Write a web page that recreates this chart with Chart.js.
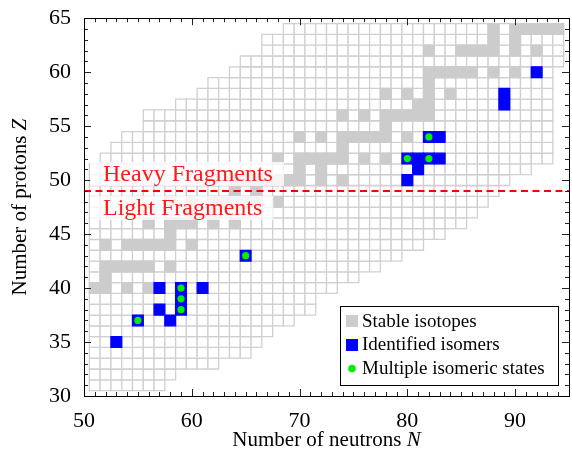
<!DOCTYPE html>
<html lang="en">
<head>
<meta charset="UTF-8" />
<title>Isomers in fission fragments</title>
<style>
  html, body { margin: 0; padding: 0; background: #fff; }
  #chart { display: block; }
</style>
<script src="https://cdn.jsdelivr.net/npm/chart.js"></script>
</head>
<body>
<canvas id="chart" width="572" height="460"></canvas>
<script>
// rows of the chart (proton number Z) and the neutron range drawn in each
var rowZ    = [31, 32, 33, 34, 35, 36, 37, 38, 39, 40, 41, 42, 43, 44, 45, 46, 47,
               48, 49, 50, 51, 52, 53, 54, 55, 56, 57, 58, 59, 60, 61, 62, 63, 64];
var rowNMin = [51, 51, 51, 51, 51, 51, 51, 51, 51, 51, 51, 51, 51, 51, 51, 51, 51,
               51, 51, 51, 51, 52, 53, 54, 56, 56, 59, 61, 62, 64, 65, 67, 67, 69];
var rowNMax = [57, 58, 62, 65, 66, 67, 69, 71, 71, 73, 75, 77, 79, 81, 83, 85, 86,
               87, 88, 89, 91, 93, 93, 93, 93, 93, 93, 93, 93, 93, 94, 94, 94, 94];

// stable isotopes [N, Z]
var stable = [
  [51, 40], [52, 40], [54, 40], [56, 40],
  [52, 41],
  [52, 42], [53, 42], [54, 42], [55, 42], [56, 42], [58, 42],
  [52, 44], [54, 44], [55, 44], [56, 44], [57, 44], [58, 44], [60, 44],
  [58, 45],
  [56, 46], [58, 46], [59, 46], [60, 46], [62, 46], [64, 46],
  [60, 47], [62, 47],
  [58, 48], [60, 48], [62, 48], [63, 48], [64, 48], [65, 48], [66, 48], [68, 48],
  [64, 49], [66, 49],
  [62, 50], [64, 50], [65, 50], [66, 50], [67, 50], [68, 50], [69, 50], [70, 50], [72, 50], [74, 50],
  [70, 51], [72, 51],
  [68, 52], [70, 52], [71, 52], [72, 52], [73, 52], [74, 52], [76, 52], [78, 52],
  [74, 53],
  [70, 54], [72, 54], [74, 54], [75, 54], [76, 54], [77, 54], [78, 54], [80, 54], [82, 54],
  [78, 55],
  [74, 56], [76, 56], [78, 56], [79, 56], [80, 56], [81, 56], [82, 56],
  [81, 57], [82, 57],
  [78, 58], [80, 58], [82, 58], [84, 58],
  [82, 59],
  [82, 60], [83, 60], [84, 60], [85, 60], [86, 60], [88, 60], [90, 60],
  [82, 62], [85, 62], [86, 62], [87, 62], [88, 62], [90, 62], [92, 62],
  [88, 63], [90, 63],
  [88, 64], [90, 64], [91, 64], [92, 64], [93, 64], [94, 64]
];

// identified isomers [N, Z]
var isomers = [
  [53, 35], [55, 37], [58, 37], [57, 38], [59, 38], [59, 39], [57, 40], [59, 40], [61, 40],
  [65, 43], [80, 50], [81, 51], [80, 52], [81, 52], [82, 52], [83, 52], [82, 54], [83, 54],
  [89, 57], [89, 58], [92, 60]
];

// isomers with more than one isomeric state [N, Z]
var multiple = [
  [55, 37], [59, 38], [59, 39], [59, 40], [65, 43], [80, 52], [82, 52], [82, 54]
];

var splitZ = 49;           // light / heavy fragment boundary
var xMin = 50, xMax = 95;
var yMin = 30, yMax = 65;
var xTicks = [50, 60, 70, 80, 90];
var yTicks = [30, 35, 40, 45, 50, 55, 60, 65];

var SERIF = "'Liberation Serif', 'DejaVu Serif', serif";

function toPoints(list) {
  return list.map(function (p) { return { x: p[0], y: p[1] }; });
}

var cells = [];
rowZ.forEach(function (z, i) {
  for (var n = rowNMin[i]; n <= rowNMax[i]; n++) cells.push({ x: n, y: z });
});

// side of one cell in pixels -> radius of a 'rect' point
function cellRadius(ctx) {
  var s = ctx.chart.scales.x;
  var w = s ? Math.abs(s.getPixelForValue(1) - s.getPixelForValue(0)) : 0;
  if (!w || !isFinite(w)) w = 10.8;
  return w / Math.SQRT2;
}

var frameAndTicks = {
  id: 'frameAndTicks',
  afterDatasetsDraw: function (chart) {
    var ctx = chart.ctx, a = chart.chartArea;
    var x = chart.scales.x, y = chart.scales.y;
    ctx.save();
    ctx.strokeStyle = '#222';
    ctx.lineWidth = 1;
    ctx.beginPath();
    var v, px, len;
    for (v = xMin; v <= xMax; v++) {
      px = Math.round(x.getPixelForValue(v)) + 0.5;
      len = xTicks.indexOf(v) >= 0 ? 7 : 4;
      ctx.moveTo(px, a.bottom); ctx.lineTo(px, a.bottom - len);
      ctx.moveTo(px, a.top); ctx.lineTo(px, a.top + len);
    }
    for (v = yMin; v <= yMax; v++) {
      px = Math.round(y.getPixelForValue(v)) + 0.5;
      len = yTicks.indexOf(v) >= 0 ? 7 : 4;
      ctx.moveTo(a.left, px); ctx.lineTo(a.left + len, px);
      ctx.moveTo(a.right, px); ctx.lineTo(a.right - len, px);
    }
    ctx.stroke();
    ctx.strokeStyle = '#000';
    ctx.strokeRect(Math.round(a.left) + 0.5, Math.round(a.top) + 0.5,
                   Math.round(a.right - a.left), Math.round(a.bottom - a.top));
    ctx.restore();
  }
};

var regionLabels = {
  id: 'regionLabels',
  afterDatasetsDraw: function (chart) {
    var ctx = chart.ctx, a = chart.chartArea, y = chart.scales.y;
    var yLine = y.getPixelForValue(splitZ);
    ctx.save();
    ctx.font = '24px ' + SERIF;
    ctx.textBaseline = 'middle';
    [['Heavy Fragments', yLine - 17], ['Light Fragments', yLine + 17]].forEach(function (t) {
      var w = ctx.measureText(t[0]).width;
      ctx.fillStyle = 'rgba(255,255,255,0.78)';
      ctx.fillRect(a.left + 6, t[1] - 12, w + 24, 24);
      ctx.fillStyle = '#ff1a1a';
      ctx.fillText(t[0], a.left + 19, t[1] + 1);
    });
    ctx.restore();
  }
};

var boxLegend = {
  id: 'boxLegend',
  afterDraw: function (chart) {
    var ctx = chart.ctx;
    var ds = chart.data.datasets;
    var left = 340, top = 306, w = 218, h = 79;
    ctx.save();
    ctx.fillStyle = '#fff';
    ctx.fillRect(left, top, w, h);
    ctx.strokeStyle = '#000';
    ctx.lineWidth = 1;
    ctx.strokeRect(left + 0.5, top + 0.5, w, h);
    ctx.font = '19px ' + SERIF;
    ctx.textBaseline = 'alphabetic';
    ctx.fillStyle = ds[1].pointBackgroundColor;
    ctx.fillRect(346, 315, 12, 12);
    ctx.fillStyle = ds[2].pointBackgroundColor;
    ctx.fillRect(346, 339, 12, 12);
    ctx.fillStyle = ds[3].pointBackgroundColor;
    ctx.beginPath();
    ctx.arc(352, 368.5, 3.8, 0, Math.PI * 2);
    ctx.fill();
    ctx.fillStyle = '#000';
    ctx.fillText(ds[1].label, 362, 327);
    ctx.fillText(ds[2].label, 362, 350);
    ctx.fillText(ds[3].label, 362, 374);
    ctx.restore();
  }
};

var axisTitles = {
  id: 'axisTitles',
  afterDraw: function (chart) {
    var ctx = chart.ctx, a = chart.chartArea;
    function mixed(text, sym, cx, cy) {
      ctx.font = '21px ' + SERIF;
      var w1 = ctx.measureText(text).width;
      ctx.font = 'italic 21px ' + SERIF;
      var w2 = ctx.measureText(sym).width;
      var x0 = cx - (w1 + w2) / 2;
      ctx.font = '21px ' + SERIF;
      ctx.fillText(text, x0, cy);
      ctx.font = 'italic 21px ' + SERIF;
      ctx.fillText(sym, x0 + w1, cy);
    }
    ctx.save();
    ctx.fillStyle = '#000';
    ctx.textBaseline = 'middle';
    ctx.textAlign = 'left';
    mixed('Number of neutrons ', 'N', (a.left + a.right) / 2, 440);
    ctx.translate(20, (a.top + a.bottom) / 2);
    ctx.rotate(-Math.PI / 2);
    mixed('Number of protons ', 'Z', 0, 0);
    ctx.restore();
  }
};

var chart = new Chart(document.getElementById('chart').getContext('2d'), {
  type: 'scatter',
  data: {
    datasets: [
      {
        label: 'cells',
        data: cells,
        pointStyle: 'rect',
        pointRadius: cellRadius,
        pointBackgroundColor: '#ffffff',
        pointBorderColor: '#d0d0d0',
        pointBorderWidth: 1.3,
        clip: 0,
        order: 5
      },
      {
        label: 'Stable isotopes',
        data: toPoints(stable),
        pointStyle: 'rect',
        pointRadius: cellRadius,
        pointBackgroundColor: '#cccccc',
        pointBorderColor: '#cccccc',
        pointBorderWidth: 1.3,
        clip: 0,
        order: 4
      },
      {
        label: 'Identified isomers',
        data: toPoints(isomers),
        pointStyle: 'rect',
        pointRadius: cellRadius,
        pointBackgroundColor: '#0000ff',
        pointBorderColor: '#0000ff',
        pointBorderWidth: 1.3,
        clip: 0,
        order: 3
      },
      {
        label: 'Multiple isomeric states',
        data: toPoints(multiple),
        pointStyle: 'circle',
        pointRadius: 3.6,
        pointBackgroundColor: '#00f000',
        pointBorderWidth: 0,
        clip: 0,
        order: 2
      },
      {
        label: 'boundary',
        data: [{ x: xMin, y: splitZ }, { x: xMax, y: splitZ }],
        showLine: true,
        borderColor: '#ff0000',
        borderWidth: 2,
        borderDash: [7, 4.5],
        pointRadius: 0,
        order: 1
      }
    ]
  },
  options: {
    responsive: false,
    animation: false,
    events: [],
    layout: { autoPadding: false, padding: { top: 17, right: 3, left: 0, bottom: 0 } },
    plugins: { legend: { display: false }, tooltip: { enabled: false } },
    scales: {
      x: {
        type: 'linear', min: xMin, max: xMax,
        grid: { display: false },
        border: { display: false },
        afterBuildTicks: function (s) { s.ticks = xTicks.map(function (v) { return { value: v }; }); },
        afterFit: function (s) { s.height = 64; },
        ticks: { color: '#000', padding: 4, font: { family: SERIF, size: 22 } }
      },
      y: {
        type: 'linear', min: yMin, max: yMax,
        grid: { display: false },
        border: { display: false },
        afterBuildTicks: function (s) { s.ticks = yTicks.map(function (v) { return { value: v }; }); },
        afterFit: function (s) { s.width = 84; },
        ticks: { color: '#000', padding: 5, font: { family: SERIF, size: 22 } }
      }
    }
  },
  plugins: [frameAndTicks, regionLabels, boxLegend, axisTitles]
});
</script>
</body>
</html>
